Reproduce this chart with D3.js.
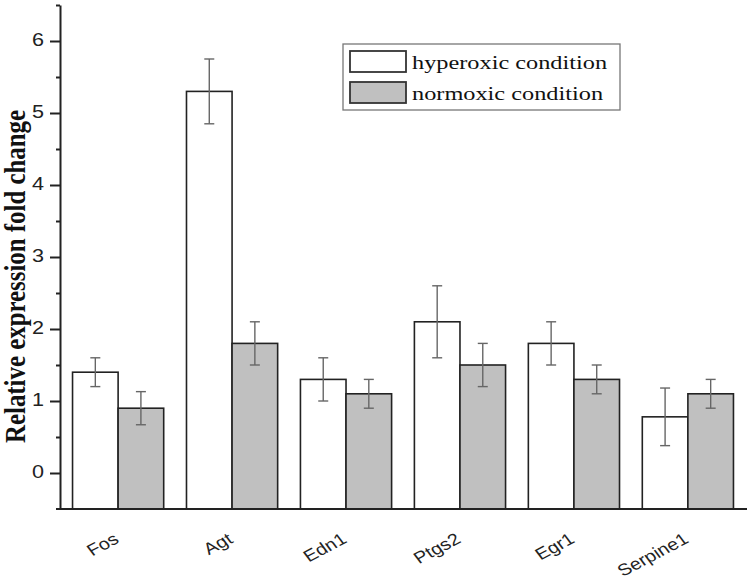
<!DOCTYPE html>
<html><head><meta charset="utf-8">
<script src="https://cdn.jsdelivr.net/npm/d3@7"></script>
<style>body{margin:0;background:#fff}</style>
</head><body>
<svg id="c" width="750" height="582"></svg>
<script>
const categories = ["Fos","Agt","Edn1","Ptgs2","Egr1","Serpine1"];
const seriesNames = ["hyperoxic condition","normoxic condition"];
const hyperoxic = [1.40, 5.30, 1.30, 2.10, 1.80, 0.78];
const hyperoxicErr = [0.20, 0.45, 0.30, 0.50, 0.30, 0.40];
const normoxic = [0.90, 1.80, 1.10, 1.50, 1.30, 1.10];
const normoxicErr = [0.23, 0.30, 0.20, 0.30, 0.20, 0.20];
const majorTicks = [0,1,2,3,4,5,6];
const minorTicks = [0.5,1.5,2.5,3.5,4.5,5.5,6.5];
const fills = ["#ffffff","#c0c0c0"];

const svg = d3.select("#c");
const y = d3.scaleLinear().domain([-0.5,6.5]).range([509,5]);
const x0 = d3.scaleBand().domain(categories).range([60,746]).paddingInner(0.2).paddingOuter(0.11);
const x1 = d3.scaleBand().domain([0,1]).range([0,x0.bandwidth()]);

const data = categories.map((c,i)=>[
  {c, s:0, v:hyperoxic[i], e:hyperoxicErr[i]},
  {c, s:1, v:normoxic[i], e:normoxicErr[i]}
]).flat();

// bars
svg.append("g").selectAll("rect").data(data).join("rect")
  .attr("x", d=>x0(d.c)+x1(d.s))
  .attr("y", d=>y(d.v))
  .attr("width", x1.bandwidth())
  .attr("height", d=>y(-0.5)-y(d.v))
  .attr("fill", d=>fills[d.s])
  .attr("stroke","#222").attr("stroke-width",1.6);

// error bars
const eg = svg.append("g").attr("stroke","#666").attr("stroke-width",1.4).attr("fill","none");
data.forEach(d=>{
  const cx = x0(d.c)+x1(d.s)+x1.bandwidth()/2;
  eg.append("line").attr("x1",cx).attr("x2",cx).attr("y1",y(d.v+d.e)).attr("y2",y(d.v-d.e));
  eg.append("line").attr("x1",cx-5).attr("x2",cx+5).attr("y1",y(d.v+d.e)).attr("y2",y(d.v+d.e));
  eg.append("line").attr("x1",cx-5).attr("x2",cx+5).attr("y1",y(d.v-d.e)).attr("y2",y(d.v-d.e));
});

// y axis
const ya = svg.append("g").attr("transform","translate(60,0)")
  .call(d3.axisLeft(y).tickValues(majorTicks).tickSize(10).tickSizeOuter(0).tickFormat(d3.format("d")));
ya.select(".domain").attr("stroke","#222").attr("stroke-width",2);
ya.selectAll(".tick line").attr("stroke","#222").attr("stroke-width",2);
ya.selectAll(".tick text").attr("x",0).attr("dy","0.32em")
  .attr("transform","translate(-16,-1.5) scale(1.2,1)")
  .attr("font-family","Liberation Sans, Arial, sans-serif").attr("font-size",18).attr("fill","#222");
const ym = svg.append("g").attr("transform","translate(60,0)")
  .call(d3.axisLeft(y).tickValues(minorTicks).tickSize(4).tickSizeOuter(0).tickFormat(""));
ym.select(".domain").remove();
ym.selectAll(".tick line").attr("stroke","#222").attr("stroke-width",2);

// x axis
const xa = svg.append("g").attr("transform","translate(0,509)")
  .call(d3.axisBottom(x0).tickSize(0).tickSizeOuter(0).tickFormat(""));
xa.select(".domain").attr("d","M56,0H747").attr("stroke","#222").attr("stroke-width",2);
svg.append("g").selectAll("text").data(categories).join("text")
  .attr("transform", d=>`translate(${x0(d)+x0.bandwidth()/2+2},542) scale(1.2,1) rotate(-32)`)
  .attr("text-anchor","end")
  .attr("font-family","Liberation Sans, Arial, sans-serif").attr("font-size",16.5).attr("fill","#222")
  .text(d=>d);

// y label
svg.append("text").attr("transform","translate(25,443) rotate(-90)")
  .attr("text-anchor","start").attr("font-family","Liberation Serif, Times New Roman, serif")
  .attr("font-weight","bold").attr("font-size",29).attr("fill","#111")
  .attr("textLength",333).attr("lengthAdjust","spacingAndGlyphs")
  .text("Relative expression fold change");

// legend
const lg = svg.append("g");
lg.append("rect").attr("x",343).attr("y",44).attr("width",277).attr("height",66)
  .attr("fill","#fff").attr("stroke","#777").attr("stroke-width",1.3);
seriesNames.forEach((n,i)=>{
  lg.append("rect").attr("x",350).attr("y",51+i*31).attr("width",56).attr("height",21)
    .attr("fill",fills[i]).attr("stroke","#333").attr("stroke-width",1.8);
  lg.append("text").attr("transform",`translate(412,${68.5+i*31.5}) scale(1.28,1)`)
    .attr("font-family","Liberation Serif, Times New Roman, serif").attr("font-size",19).attr("fill","#111")
    .text(n);
});
</script>
</body></html>
